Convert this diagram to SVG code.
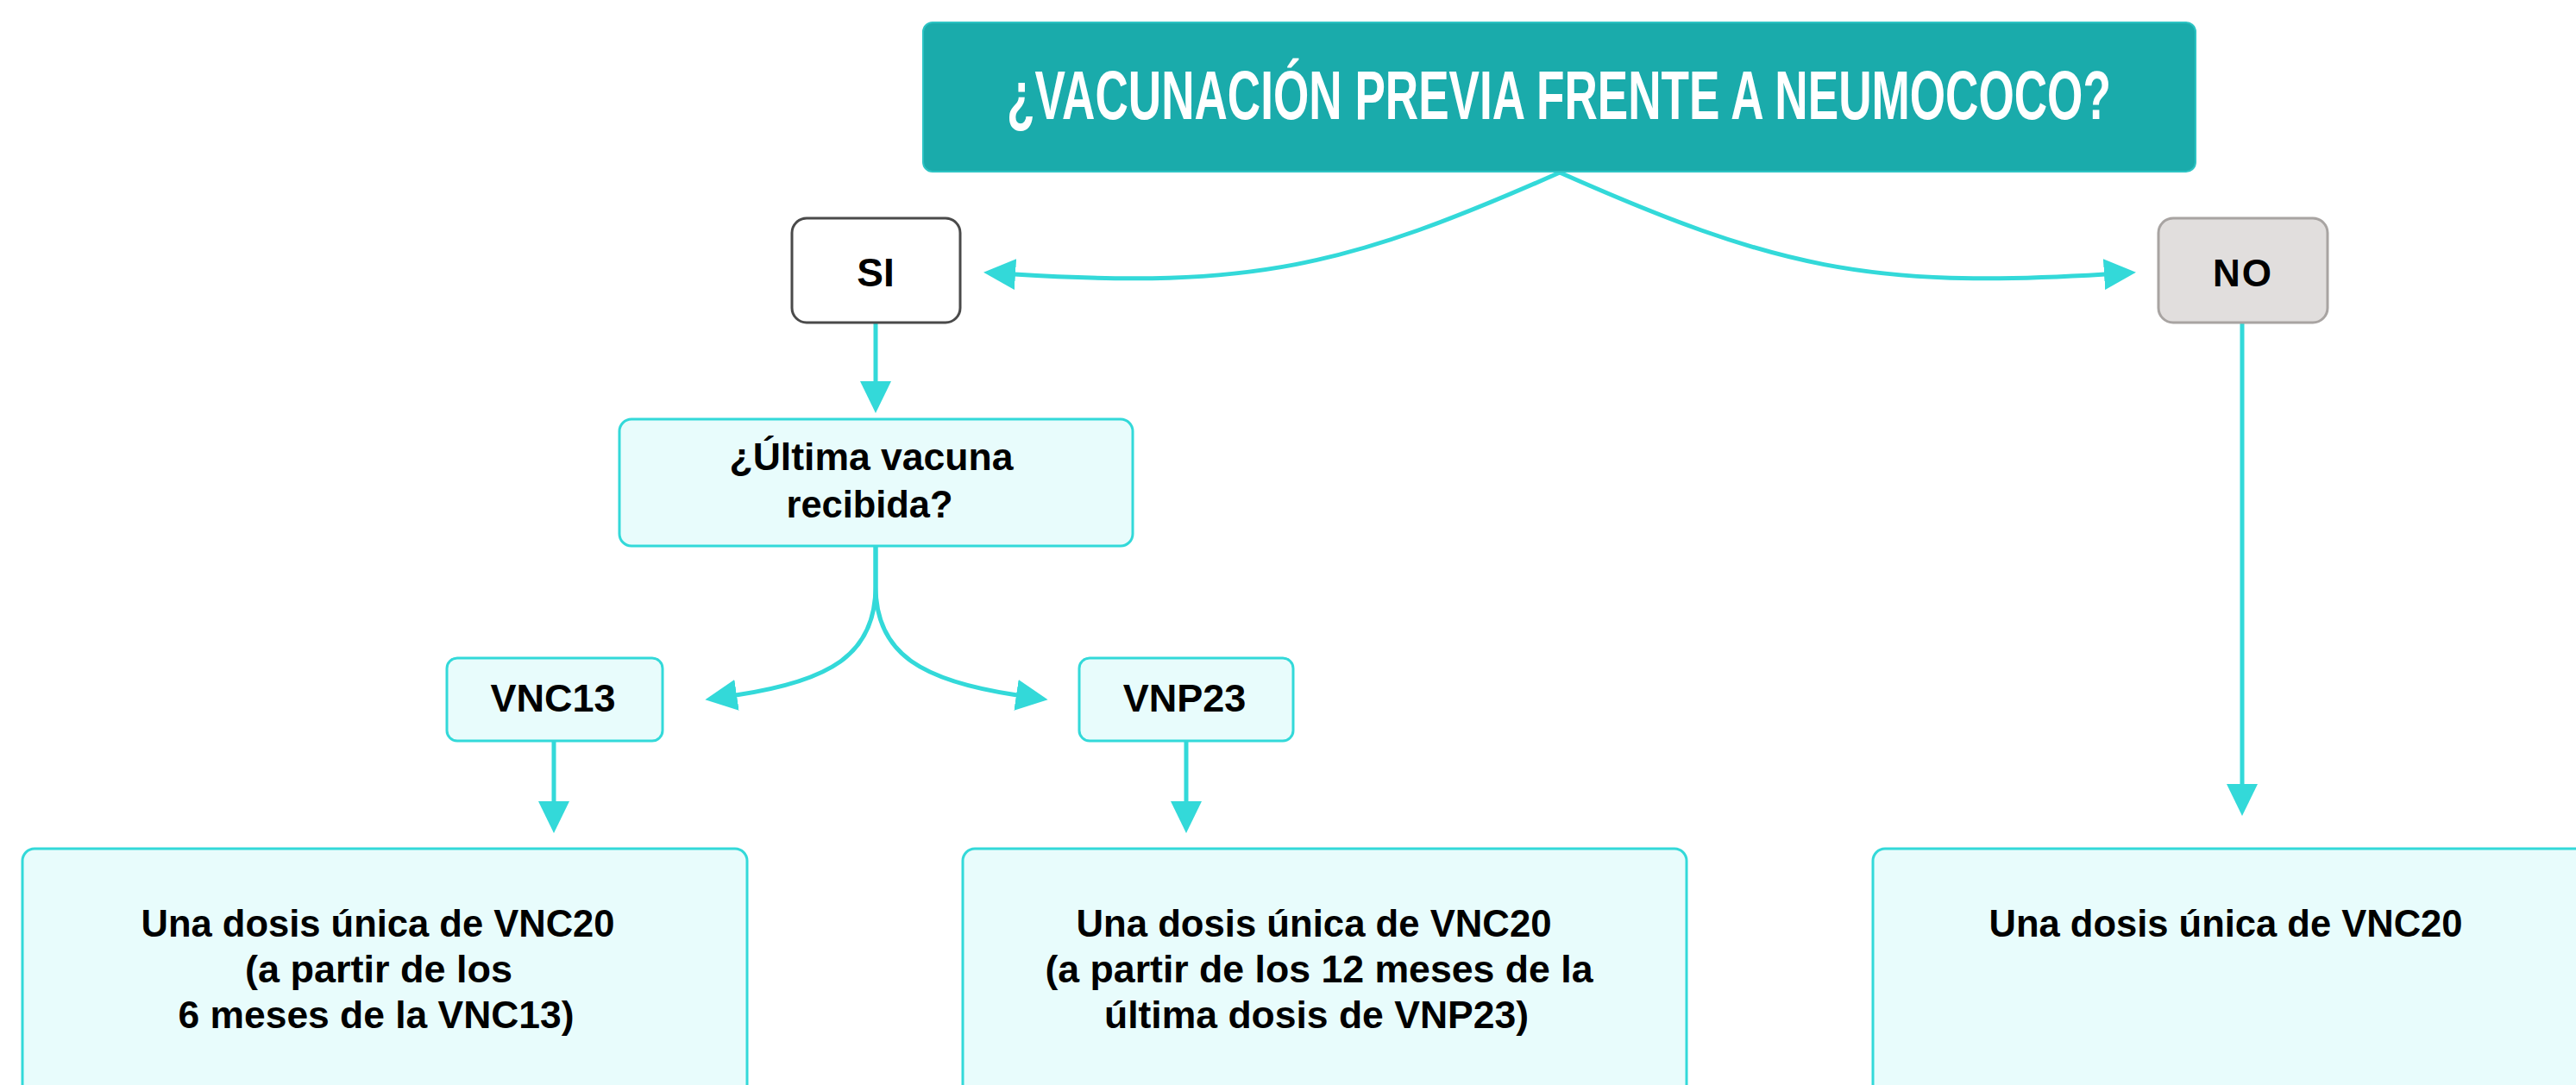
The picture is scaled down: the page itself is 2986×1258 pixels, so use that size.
<svg xmlns="http://www.w3.org/2000/svg" width="2986" height="1258" viewBox="0 0 2986 1258">
<style>
.t{font-family:"Liberation Sans",Arial,sans-serif;font-weight:bold;fill:#000;text-anchor:middle}
.lb{fill:#e8fcfc;stroke:#33d9d9;stroke-width:3}
.c{fill:none;stroke:#33d9d9;stroke-width:5;marker-end:url(#ah)}
</style>
<defs>
<marker id="ah" markerUnits="userSpaceOnUse" viewBox="0 0 37 36" refX="1" refY="18" markerWidth="37" markerHeight="36" orient="auto">
<path d="M0,0 L37,18 L0,36 Z" fill="#33d9d9"/>
</marker>
</defs>
<rect width="2986" height="1258" fill="#fff"/>
<g id="connectors">
<path class="c" d="M1808,200 C1560,310 1450,335 1176,318"/>
<path class="c" d="M1808,200 C2056,310 2166,335 2440,318"/>
<path class="c" d="M1015,374 L1015,443"/>
<path class="c" d="M1015,633 L1015,680 C1015,760 960,790 853,806"/>
<path class="c" d="M1015,633 L1015,680 C1015,760 1072,790 1179,806"/>
<path class="c" d="M642,859 L642,930"/>
<path class="c" d="M1375,859 L1375,930"/>
<path class="c" d="M2599,374 L2599,910"/>
</g>
<g id="title">
<rect x="1070" y="26" width="1475" height="173" rx="11" fill="#1aabab" stroke="#2cc3c3" stroke-width="2"/>
<text transform="translate(1807,138) scale(0.659,1)" x="0" y="0" font-family="Liberation Sans, Arial, sans-serif" font-weight="bold" font-size="80" fill="#fff" text-anchor="middle" textLength="1942" lengthAdjust="spacingAndGlyphs">¿VACUNACIÓN PREVIA FRENTE A NEUMOCOCO?</text>
</g>
<g id="si">
<rect x="918" y="253" width="195" height="121" rx="17" fill="#fff" stroke="#4a4a4a" stroke-width="3"/>
<text class="t" x="1015" y="332" font-size="46">SI</text>
</g>
<g id="no">
<rect x="2502" y="253" width="196" height="121" rx="17" fill="#e1dedd" stroke="#a8a4a2" stroke-width="3"/>
<text class="t" x="2600" y="332" font-size="44" letter-spacing="2">NO</text>
</g>
<g id="ultima">
<rect class="lb" x="718" y="486" width="595" height="147" rx="14"/>
<text class="t" x="1010" y="545" font-size="45" textLength="329" lengthAdjust="spacingAndGlyphs">¿Última vacuna</text>
<text class="t" x="1008" y="600" font-size="45" textLength="193" lengthAdjust="spacingAndGlyphs">recibida?</text>
</g>
<g id="vnc13">
<rect class="lb" x="518" y="763" width="250" height="96" rx="12"/>
<text class="t" x="641" y="825" font-size="45">VNC13</text>
</g>
<g id="vnp23">
<rect class="lb" x="1251" y="763" width="248" height="96" rx="12"/>
<text class="t" x="1373" y="825" font-size="45">VNP23</text>
</g>
<g id="res1">
<rect class="lb" x="26" y="984" width="840" height="320" rx="14"/>
<text class="t" x="438" y="1086" font-size="45" textLength="549" lengthAdjust="spacingAndGlyphs">Una dosis única de VNC20</text>
<text class="t" x="439" y="1139" font-size="45" textLength="310" lengthAdjust="spacingAndGlyphs">(a partir de los</text>
<text class="t" x="436" y="1192" font-size="45" textLength="459" lengthAdjust="spacingAndGlyphs">6 meses de la VNC13)</text>
</g>
<g id="res2">
<rect class="lb" x="1116" y="984" width="839" height="320" rx="14"/>
<text class="t" x="1523" y="1086" font-size="45" textLength="551" lengthAdjust="spacingAndGlyphs">Una dosis única de VNC20</text>
<text class="t" x="1529" y="1139" font-size="45" textLength="635" lengthAdjust="spacingAndGlyphs">(a partir de los 12 meses de la</text>
<text class="t" x="1526" y="1192" font-size="45" textLength="492" lengthAdjust="spacingAndGlyphs">última dosis de VNP23)</text>
</g>
<g id="res3">
<rect class="lb" x="2171" y="984" width="860" height="320" rx="14"/>
<text class="t" x="2580" y="1086" font-size="45" textLength="549" lengthAdjust="spacingAndGlyphs">Una dosis única de VNC20</text>
</g>
</svg>
